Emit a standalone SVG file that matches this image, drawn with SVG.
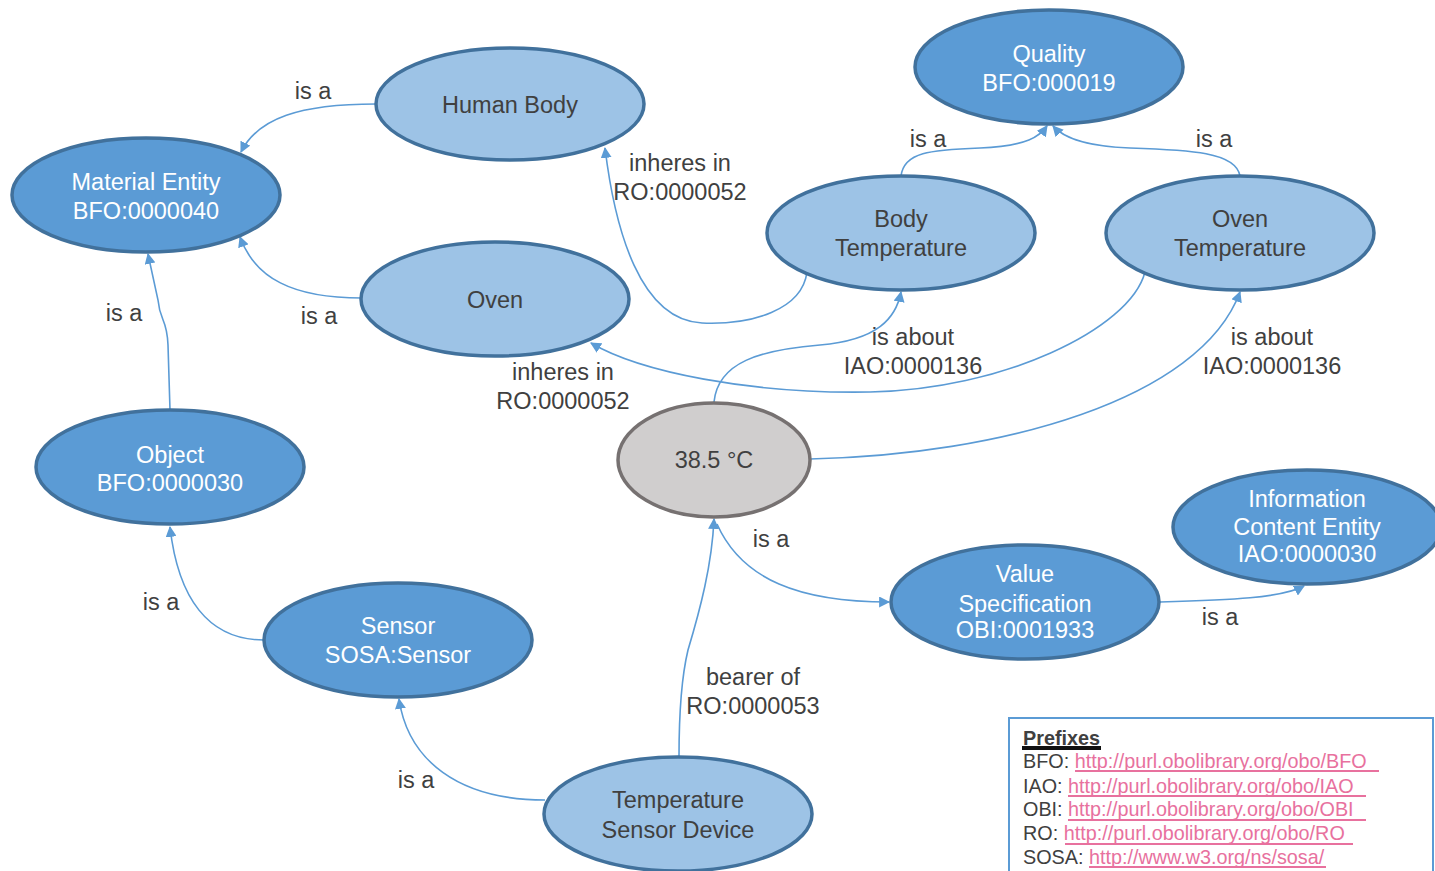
<svg xmlns="http://www.w3.org/2000/svg" width="1435" height="871" viewBox="0 0 1435 871">
<style>
text{font-family:"Liberation Sans",Arial,sans-serif;font-size:23.5px;text-anchor:middle}
.dk ellipse{fill:#5b9bd5;stroke:#41719c;stroke-width:3.5}
.lt ellipse{fill:#9dc3e6;stroke:#41719c;stroke-width:3.5}
.gr ellipse{fill:#d0cece;stroke:#767171;stroke-width:3.5}
.dk text{fill:#ffffff}
.lt text,.gr text{fill:#404040}
.edges path{fill:none;stroke:#5b9bd5;stroke-width:1.6;marker-end:url(#ah)}
.lbl{fill:#404040}
.pf{font-size:19.8px;text-anchor:start;fill:#404040}
.url{fill:#e8719e}
</style>
<defs>
<marker id="ah" viewBox="0 0 10 10" refX="9" refY="5" markerWidth="11" markerHeight="11" markerUnits="userSpaceOnUse" orient="auto">
<path d="M0,0 L10,5 L0,10 z" fill="#5b9bd5"/>
</marker>
</defs>
<rect width="1435" height="871" fill="#ffffff"/>

<g class="edges" id="connectors">
<path d="M376,104 C300,104 258,118 241,152"/>
<path d="M362,298 C292,298 255,278 240,237"/>
<path d="M170,410 L168,345 C167,318 160,322 158,300 L148,254"/>
<path d="M264,640 C208,640 178,598 170,527"/>
<path d="M545,800 C458,800 408,760 399,699"/>
<path d="M679,757 C679,710 682,675 688,650 C700,610 712,565 714,519"/>
<path d="M717,524 C742,580 800,602 889,602"/>
<path d="M1160,602 C1230,600 1282,598 1304,586"/>
<path d="M714,402 C718,362 760,350 820,345 C878,340 896,318 901,292"/>
<path d="M810,459 C1000,455 1200,400 1240,292"/>
<path d="M1145,272 C1130,330 1000,390 870,392 C750,394 640,372 591,343"/>
<path d="M807,272 C802,310 752,325 702,323 C640,320 615,230 605,148"/>
<path d="M901,176 C904,152 930,150 980,148 C1028,146 1040,136 1047,126"/>
<path d="M1240,176 C1236,152 1190,150 1130,148 C1080,146 1062,136 1053,126"/>
</g>

<g id="edge-labels" class="lbl">
<text x="313" y="99">is a</text>
<text x="319" y="324">is a</text>
<text x="124" y="321">is a</text>
<text x="161" y="610">is a</text>
<text x="416" y="788">is a</text>
<text x="753" y="685">bearer of</text>
<text x="753" y="714">RO:0000053</text>
<text x="771" y="547">is a</text>
<text x="1220" y="625">is a</text>
<text x="913" y="345">is about</text>
<text x="913" y="374">IAO:0000136</text>
<text x="1272" y="345">is about</text>
<text x="1272" y="374">IAO:0000136</text>
<text x="563" y="380">inheres in</text>
<text x="563" y="409">RO:0000052</text>
<text x="680" y="171">inheres in</text>
<text x="680" y="200">RO:0000052</text>
<text x="928" y="147">is a</text>
<text x="1214" y="147">is a</text>
</g>

<g id="human-body" class="lt"><ellipse cx="510" cy="104" rx="134" ry="56"/><text x="510" y="113">Human Body</text></g>
<g id="quality" class="dk"><ellipse cx="1049" cy="67" rx="134" ry="57"/><text x="1049" y="62">Quality</text><text x="1049" y="91">BFO:000019</text></g>
<g id="material-entity" class="dk"><ellipse cx="146" cy="195" rx="134" ry="57"/><text x="146" y="190">Material Entity</text><text x="146" y="219">BFO:0000040</text></g>
<g id="body-temperature" class="lt"><ellipse cx="901" cy="233" rx="134" ry="57"/><text x="901" y="227">Body</text><text x="901" y="256">Temperature</text></g>
<g id="oven-temperature" class="lt"><ellipse cx="1240" cy="233" rx="134" ry="57"/><text x="1240" y="227">Oven</text><text x="1240" y="256">Temperature</text></g>
<g id="oven" class="lt"><ellipse cx="495" cy="299" rx="134" ry="57"/><text x="495" y="308">Oven</text></g>
<g id="object" class="dk"><ellipse cx="170" cy="467" rx="134" ry="57"/><text x="170" y="463">Object</text><text x="170" y="491">BFO:0000030</text></g>
<g id="value-38" class="gr"><ellipse cx="714" cy="460" rx="96" ry="57"/><text x="714" y="468">38.5 °C</text></g>
<g id="ice" class="dk"><ellipse cx="1307" cy="527" rx="134" ry="57"/><text x="1307" y="507">Information</text><text x="1307" y="535">Content Entity</text><text x="1307" y="562">IAO:0000030</text></g>
<g id="value-specification" class="dk"><ellipse cx="1025" cy="602" rx="134" ry="57"/><text x="1025" y="582">Value</text><text x="1025" y="612">Specification</text><text x="1025" y="638">OBI:0001933</text></g>
<g id="sensor" class="dk"><ellipse cx="398" cy="640" rx="134" ry="57"/><text x="398" y="634">Sensor</text><text x="398" y="663">SOSA:Sensor</text></g>
<g id="temperature-sensor-device" class="lt"><ellipse cx="678" cy="814" rx="134" ry="57"/><text x="678" y="808">Temperature</text><text x="678" y="838">Sensor Device</text></g>

<g id="prefixes">
<rect x="1009" y="718" width="424" height="156" fill="#ffffff" stroke="#5b9bd5" stroke-width="2"/>
<text class="pf" x="1023" y="745" font-weight="bold" font-size="19">Prefixes</text>
<rect x="1022" y="746" width="79" height="4" fill="#111111"/>
<text class="pf" x="1023" y="768">BFO: <tspan class="url">http://purl.obolibrary.org/obo/BFO</tspan></text>
<rect x="1075" y="770" width="304" height="2" fill="#e8719e"/>
<text class="pf" x="1023" y="793">IAO: <tspan class="url">http://purl.obolibrary.org/obo/IAO</tspan></text>
<rect x="1068" y="795" width="298" height="2" fill="#e8719e"/>
<text class="pf" x="1023" y="816">OBI: <tspan class="url">http://purl.obolibrary.org/obo/OBI</tspan></text>
<rect x="1068" y="819" width="298" height="2" fill="#e8719e"/>
<text class="pf" x="1023" y="840">RO: <tspan class="url">http://purl.obolibrary.org/obo/RO</tspan></text>
<rect x="1065" y="843" width="288" height="2" fill="#e8719e"/>
<text class="pf" x="1023" y="864">SOSA: <tspan class="url">http://www.w3.org/ns/sosa/</tspan></text>
<rect x="1089" y="866" width="237" height="2" fill="#e8719e"/>
</g>
</svg>
